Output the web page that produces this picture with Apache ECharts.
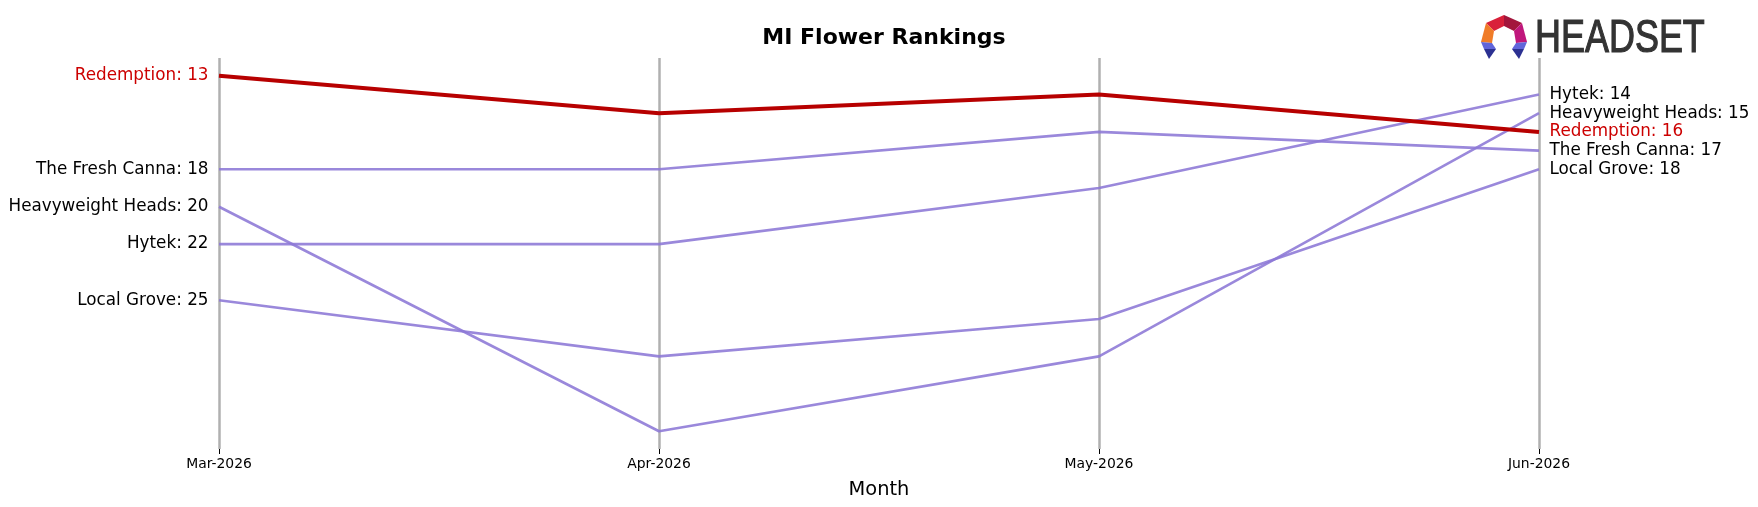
<!DOCTYPE html>
<html>
<head>
<meta charset="utf-8">
<script src="https://cdn.jsdelivr.net/npm/echarts@6/dist/echarts.min.js"></script>
<style>
html,body{margin:0;padding:0;background:#fff;}
#chart{width:1758px;height:507px;}
</style>
</head>
<body>
<div id="chart"></div>
<script>
var months = ['Mar-2026', 'Apr-2026', 'May-2026', 'Jun-2026'];
var brandNames = ['Redemption', 'The Fresh Canna', 'Heavyweight Heads', 'Hytek', 'Local Grove'];
var redemption = [13, 15, 14, 16];
var freshCanna = [18, 18, 16, 17];
var heavyweight = [20, 32, 28, 15];
var hytek = [22, 22, 19, 14];
var localGrove = [25, 28, 26, 18];
var seriesValues = [redemption, freshCanna, heavyweight, hytek, localGrove];

var FONT = 'DejaVu Sans';
var RED = '#b70000';
var RED_TEXT = '#cc0000';
var PURPLE = '#8c78d6';

function buildSeries(name, values, highlight) {
  var labelColor = highlight ? RED_TEXT : '#000';
  var data = values.map(function (v, i) {
    var item = { value: v };
    if (i === 0 || i === values.length - 1) {
      item.label = {
        show: true,
        position: i === 0 ? 'left' : 'right',
        distance: 10.5,
        formatter: name + ': ' + v,
        color: labelColor,
        fontFamily: FONT,
        fontSize: 16.8
      };
    }
    return item;
  });
  return {
    name: name,
    type: 'line',
    data: data,
    symbol: 'circle',
    symbolSize: 0,
    showSymbol: true,
    z: highlight ? 5 : 3,
    lineStyle: { color: highlight ? RED : PURPLE, width: highlight ? 4 : 2.6, opacity: highlight ? 1 : 0.88 },
    itemStyle: { color: highlight ? RED : PURPLE },
    label: { show: false },
    emphasis: { disabled: true },
    silent: true
  };
}

var series = brandNames.map(function (n, i) { return buildSeries(n, seriesValues[i], n === 'Redemption'); });
series = series.slice(1).concat([series[0]]);

var chart = echarts.init(document.getElementById('chart'), null, { renderer: 'canvas' });
chart.setOption({
  animation: false,
  backgroundColor: '#fff',
  title: {
    text: 'MI Flower Rankings',
    left: 879,
    textAlign: 'center',
    top: 22,
    textStyle: { fontFamily: FONT, fontSize: 22, fontWeight: 'bold', color: '#000' }
  },
  grid: { left: 219, right: 219, top: 58, bottom: 58 },
  xAxis: {
    type: 'category',
    data: months,
    boundaryGap: false,
    axisLine: { show: false },
    axisTick: { show: true, length: 5, lineStyle: { color: '#000', width: 1 } },
    axisLabel: { fontFamily: FONT, fontSize: 13.9, color: '#000', margin: 8 },
    splitLine: { show: true, lineStyle: { color: '#b0b0b0', width: 2.5 } },
    name: 'Month',
    nameLocation: 'middle',
    nameGap: 31,
    nameTextStyle: { fontFamily: FONT, fontSize: 19.4, color: '#000' }
  },
  yAxis: {
    type: 'value',
    inverse: true,
    min: 12.05,
    max: 32.95,
    show: false,
    splitLine: { show: false }
  },
  series: series,
  graphic: [
    { type: 'polygon', shape: { points: [[1504,15],[1486,23],[1494,31],[1504,26]] }, style: { fill: '#d9203a' } },
    { type: 'polygon', shape: { points: [[1504,15],[1522,23],[1514,31],[1504,26]] }, style: { fill: '#a3163c' } },
    { type: 'polygon', shape: { points: [[1486,23],[1481,42],[1492,43],[1494,31]] }, style: { fill: '#f07c28' } },
    { type: 'polygon', shape: { points: [[1522,23],[1527,42],[1516,43],[1514,31]] }, style: { fill: '#c0177c' } },
    { type: 'polygon', shape: { points: [[1481,42],[1492,43],[1496,49],[1484,49]] }, style: { fill: '#6165da' } },
    { type: 'polygon', shape: { points: [[1484,49],[1496,49],[1489,59]] }, style: { fill: '#2c3192' } },
    { type: 'polygon', shape: { points: [[1527,42],[1516,43],[1512,49],[1524,49]] }, style: { fill: '#6165da' } },
    { type: 'polygon', shape: { points: [[1524,49],[1512,49],[1519,59]] }, style: { fill: '#2c3192' } },
    {
      type: 'text', x: 1535, y: 16, scaleX: 0.765,
      style: { text: 'HEADSET', fontFamily: 'Liberation Sans', fontSize: 47, fill: '#333333', stroke: '#333333', lineWidth: 1.2, textVerticalAlign: 'top' }
    }
  ]
});
</script>
</body>
</html>
